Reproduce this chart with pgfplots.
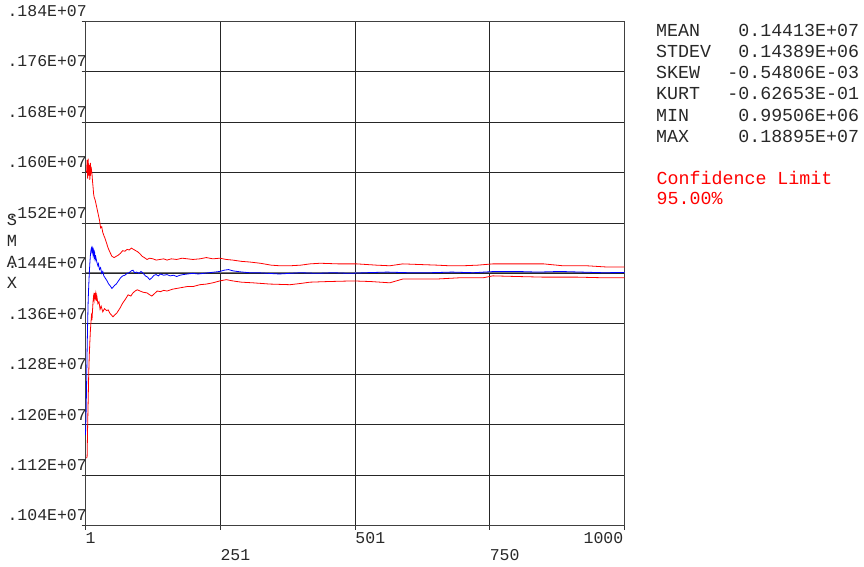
\documentclass[border=0pt]{standalone}
\usepackage{pgfplots}
\pgfplotsset{compat=1.18}
\usepackage{fontspec}
\setmainfont{Liberation Mono}
\setmonofont{Liberation Mono}
\definecolor{cblue}{RGB}{0,0,255}
\definecolor{cred}{RGB}{255,0,0}
\definecolor{ctxt}{RGB}{40,40,40}
\begin{document}
\begin{tikzpicture}
\path[use as bounding box] (0pt,0pt) rectangle (864pt,567pt);
\begin{axis}[
  at={(85.5pt,41.3pt)}, anchor=south west,
  scale only axis, width=539pt, height=504.7pt,
  xmin=1, xmax=1000, ymin=1.04, ymax=1.84,
  xtick={1,251,501,750,1000}, xticklabels={},
  ytick={1.04,1.12,1.20,1.28,1.36,1.44,1.52,1.60,1.68,1.76,1.84}, yticklabels={},
  tick pos=left, tick align=outside, major tick length=4pt,
  tick style={black!80, line width=0.7pt},
  grid=major, major grid style={black!85, line width=0.7pt},
  axis line style={black!75, line width=0.8pt},
  clip=false,
]
\addplot[black!55, line width=1.4pt] coordinates {(1,1.4413) (1000,1.4413)};
\addplot[cred, line width=0.8pt] coordinates {
(3,1.600)(4,1.620)(5,1.590)(6,1.622)(7,1.595)(8,1.612)(9,1.588)(10,1.615)(11,1.600)(12,1.605)
(13,1.598)(14,1.586)(15,1.577)(16,1.566)(17,1.561)(19,1.556)(21,1.548)(23,1.540)(25,1.532)(27,1.524)
(29,1.512)(31,1.514)(33,1.505)(35,1.500)(37,1.496)(40,1.488)(43,1.480)(46,1.474)(50,1.467)(54,1.465)
(58,1.467)(62,1.469)(66,1.472)(70,1.476)(74,1.475)(78,1.478)(82,1.477)(86,1.480)(90,1.478)(94,1.476)
(98,1.474)(102,1.471)(106,1.467)(110,1.465)(115,1.462)(120,1.464)(126,1.463)(132,1.461)(139,1.462)
(146,1.463)(152,1.461)(160,1.463)(170,1.462)(180,1.464)(190,1.463)(200,1.462)(213,1.463)(225,1.465)
(237,1.463)(250,1.464)(262,1.462)(274,1.461)(290,1.459)(305,1.458)(325,1.456)(345,1.453)(361,1.452)
(380,1.452)(400,1.453)(417,1.455)(436,1.456)(470,1.455)(504,1.455)(540,1.453)(565,1.452)(589,1.455)
(620,1.454)(652,1.453)(676,1.452)(700,1.452)(728,1.453)(756,1.455)(800,1.455)(850,1.455)(886,1.452)
(930,1.452)(968,1.450)(1000,1.450)};
\addplot[cred, line width=0.8pt] coordinates {
(3,1.147)(4,1.150)(5,1.200)(6,1.240)(7,1.282)(8,1.310)(9,1.330)(10,1.348)(11,1.361)(12,1.372)
(13,1.366)(14,1.381)(15,1.395)(16,1.404)(17,1.398)(18,1.409)(19,1.402)(20,1.408)(21,1.396)(22,1.404)
(24,1.392)(26,1.395)(28,1.383)(30,1.388)(33,1.379)(36,1.384)(40,1.381)(43,1.382)(46,1.377)(49,1.374)
(52,1.371)(55,1.374)(59,1.377)(62,1.381)(65,1.385)(70,1.393)(75,1.399)(80,1.406)(85,1.404)(89,1.409)
(93,1.412)(97,1.414)(102,1.412)(108,1.410)(115,1.409)(120,1.406)(124,1.404)(129,1.408)(134,1.412)
(140,1.411)(146,1.413)(152,1.412)(163,1.415)(176,1.417)(189,1.419)(200,1.419)(213,1.422)(225,1.423)
(237,1.425)(250,1.428)(262,1.430)(274,1.428)(290,1.426)(311,1.425)(343,1.423)(380,1.422)(400,1.424)
(417,1.426)(450,1.427)(497,1.428)(530,1.427)(565,1.425)(589,1.431)(620,1.431)(652,1.431)(695,1.433)
(738,1.433)(756,1.436)(800,1.435)(849,1.434)(912,1.434)(960,1.433)(1000,1.433)};
\addplot[cblue, line width=0.8pt] coordinates {
(1,1.184)(2,1.215)(3,1.262)(4,1.318)(5,1.362)(6,1.398)(7,1.420)(8,1.440)(9,1.455)(10,1.468)
(11,1.476)(12,1.480)(13,1.474)(14,1.479)(15,1.470)(16,1.476)(17,1.466)(18,1.472)(19,1.462)(20,1.466)
(22,1.458)(24,1.452)(25,1.455)(27,1.446)(29,1.449)(31,1.440)(33,1.443)(35,1.436)(38,1.432)(41,1.428)
(44,1.423)(47,1.420)(50,1.416)(52,1.418)(55,1.421)(58,1.423)(62,1.428)(66,1.433)(70,1.436)(74,1.437)
(78,1.440)(82,1.441)(86,1.444)(89,1.445)(92,1.441)(96,1.442)(100,1.440)(104,1.443)(108,1.440)
(112,1.436)(116,1.434)(120,1.430)(124,1.433)(128,1.437)(132,1.438)(136,1.436)(140,1.439)(146,1.437)
(152,1.438)(158,1.436)(164,1.437)(170,1.435)(176,1.437)(182,1.438)(190,1.439)(200,1.440)(210,1.439)
(220,1.440)(230,1.441)(240,1.442)(250,1.443)(258,1.445)(266,1.446)(274,1.444)(282,1.443)(292,1.442)
(305,1.441)(320,1.441)(340,1.440)(360,1.439)(380,1.440)(400,1.441)(430,1.440)(460,1.441)(490,1.440)
(520,1.441)(560,1.442)(600,1.441)(640,1.441)(680,1.442)(720,1.441)(760,1.443)(800,1.443)(840,1.442)
(880,1.443)(920,1.442)(960,1.441)(1000,1.4413)};
% y tick labels
\begin{scope}[every node/.style={anchor=base east, inner sep=0pt, xshift=1.5pt, yshift=4.7pt, text=ctxt, font=\fontsize{16.5}{18}\selectfont}]
\node at (axis cs:1,1.04) {.104E+07};
\node at (axis cs:1,1.12) {.112E+07};
\node at (axis cs:1,1.20) {.120E+07};
\node at (axis cs:1,1.28) {.128E+07};
\node at (axis cs:1,1.36) {.136E+07};
\node at (axis cs:1,1.44) {.144E+07};
\node at (axis cs:1,1.52) {.152E+07};
\node at (axis cs:1,1.60) {.160E+07};
\node at (axis cs:1,1.68) {.168E+07};
\node at (axis cs:1,1.76) {.176E+07};
\node at (axis cs:1,1.84) {.184E+07};
\end{scope}
% x tick labels
\begin{scope}[every node/.style={inner sep=0pt, text=ctxt, font=\fontsize{16.5}{18}\selectfont}]
\node[anchor=north west] at (axis cs:1,1.04) [yshift=-7pt] {1};
\node[anchor=north west] at (axis cs:251,1.04) [yshift=-24pt] {251};
\node[anchor=north west] at (axis cs:501,1.04) [yshift=-7pt] {501};
\node[anchor=north west] at (axis cs:750,1.04) [yshift=-24pt] {750};
\node[anchor=north east] at (axis cs:1000,1.04) [yshift=-7pt,xshift=-1pt] {1000};
\end{scope}
\end{axis}
% y axis label
\begin{scope}[every node/.style={inner sep=0pt, text=ctxt, font=\fontsize{17}{18}\selectfont}]
\node at (12pt,347pt) {S};
\node at (12pt,326pt) {M};
\node at (12pt,305pt) {A};
\node at (12pt,284pt) {X};
\end{scope}
% statistics
\begin{scope}[every node/.style={inner sep=0pt, text=ctxt, font=\fontsize{18.3}{20}\selectfont}]
\node[anchor=base west] at (656pt,530.3pt) {MEAN};
\node[anchor=base west] at (656pt,509pt) {STDEV};
\node[anchor=base west] at (656pt,488pt) {SKEW};
\node[anchor=base west] at (656pt,467pt) {KURT};
\node[anchor=base west] at (656pt,445.7pt) {MIN};
\node[anchor=base west] at (656pt,424.7pt) {MAX};
\node[anchor=base east] at (859.3pt,530.3pt) {0.14413E+07};
\node[anchor=base east] at (859.3pt,509pt) {0.14389E+06};
\node[anchor=base east] at (859.3pt,488pt) {-0.54806E-03};
\node[anchor=base east] at (859.3pt,467pt) {-0.62653E-01};
\node[anchor=base east] at (859.3pt,445.7pt) {0.99506E+06};
\node[anchor=base east] at (859.3pt,424.7pt) {0.18895E+07};
\node[anchor=base west, text=cred] at (656.5pt,382pt) {Confidence Limit};
\node[anchor=base west, text=cred] at (656.5pt,362pt) {95.00\%};
\end{scope}
\end{tikzpicture}
\end{document}
